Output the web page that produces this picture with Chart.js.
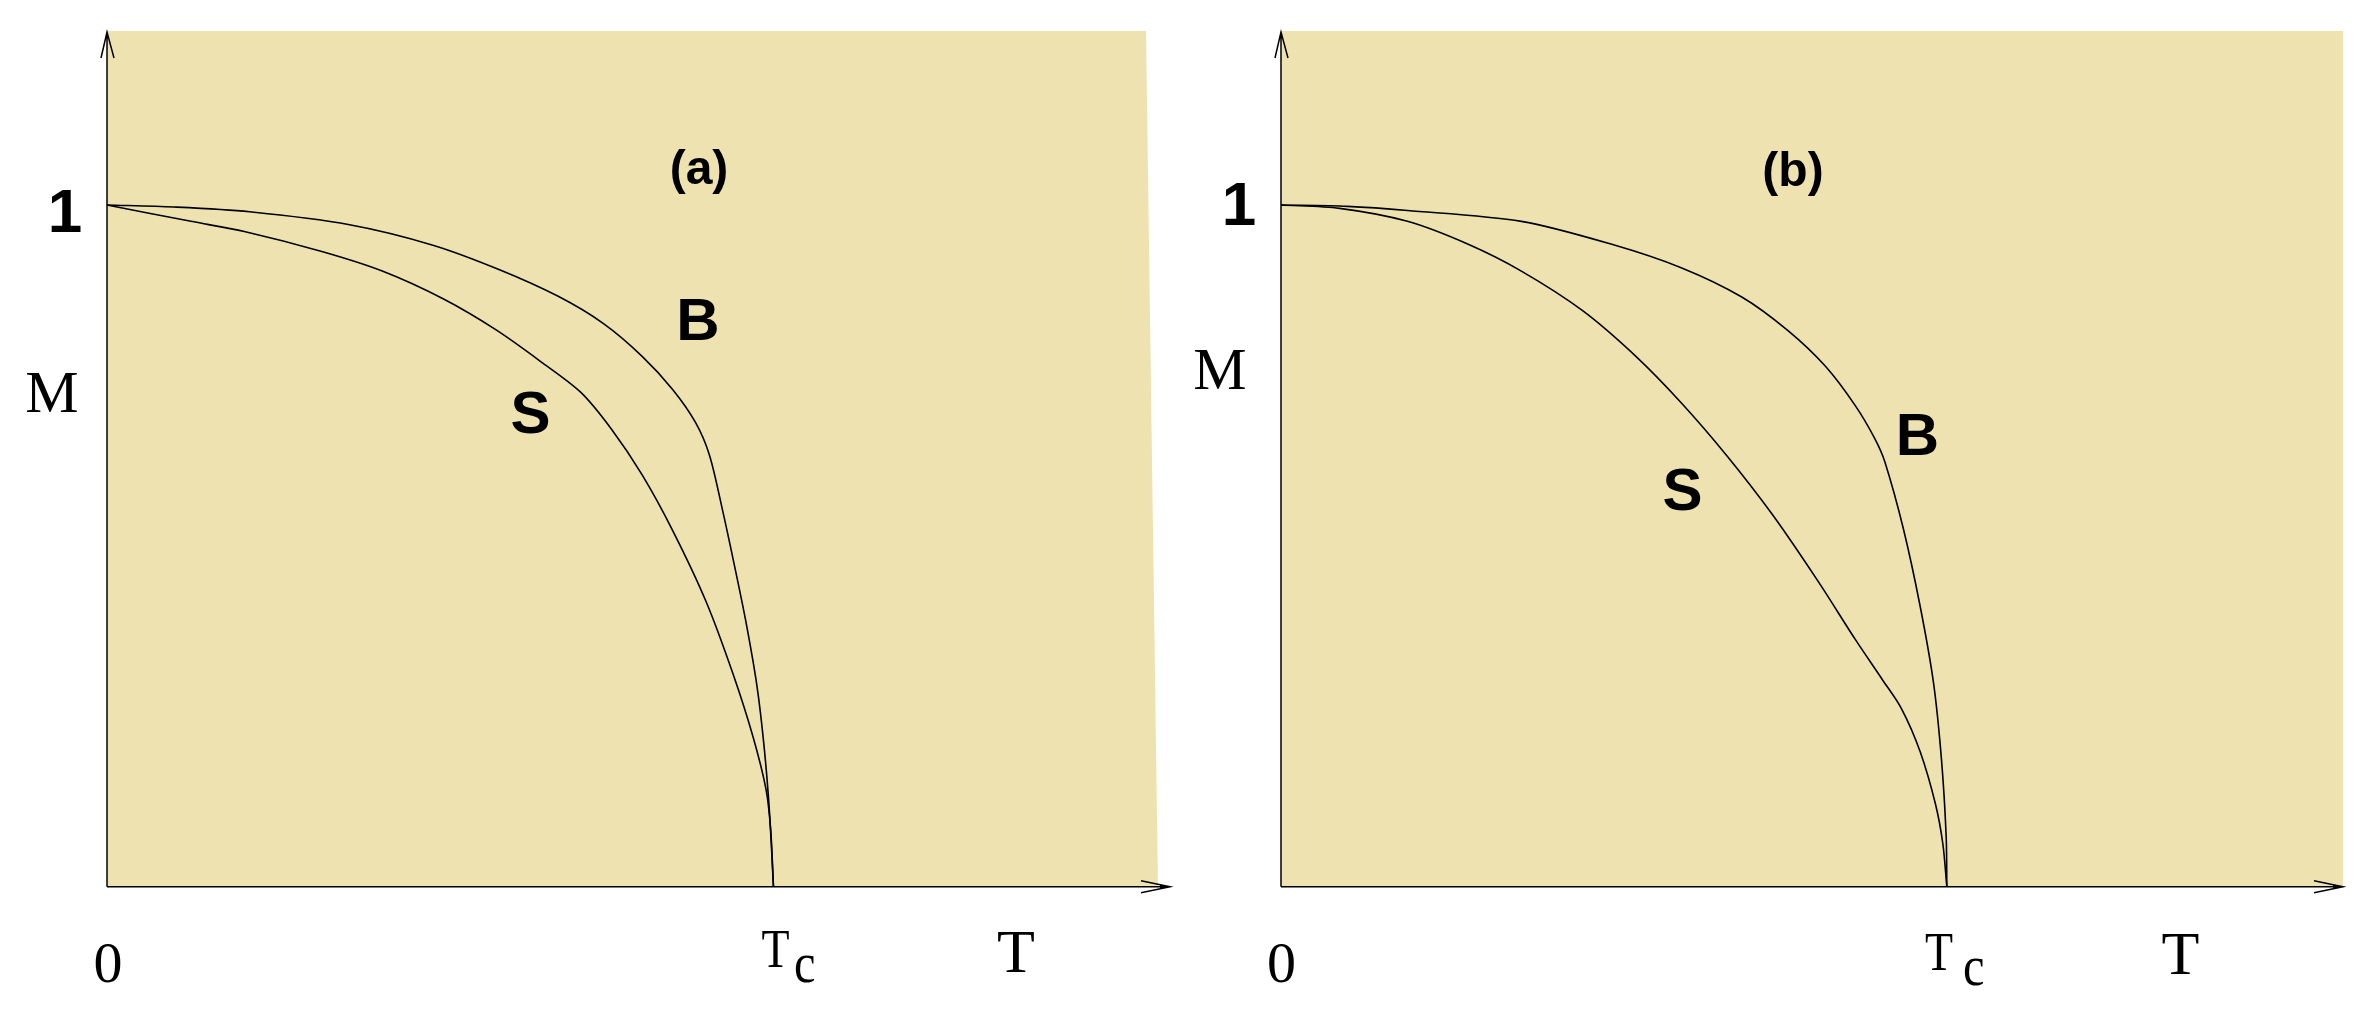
<!DOCTYPE html>
<html><head><meta charset="utf-8">
<script src="https://cdn.jsdelivr.net/npm/chart.js@4/dist/chart.umd.min.js"></script>
<style>
html,body{margin:0;padding:0;background:#fff;overflow:hidden;}
#wrap{position:relative;width:2372px;height:1034px;}
canvas{position:absolute;top:0;}
</style></head><body>
<div id="wrap">
<canvas id="ca" width="1186" height="1034" style="left:0;width:1186px;height:1034px"></canvas>
<canvas id="cb" width="1186" height="1034" style="left:1186px;width:1186px;height:1034px"></canvas>
</div>
<script>
// ---------- data (T in units of Tc, M normalised) ----------
const panelTitles = ['(a)', '(b)'];
const curveNames = ['B', 'S'];
const xTickValues = [0, 1];
const xTickLabels = ['0', 'T'];
const xTickSubs = ['', 'c'];
const yTickValues = [1];
const yTickLabels = ['1'];
const xAxisTitle = 'T';
const yAxisTitle = 'M';

// panel (a)
const aB_T = [0, 0.10, 0.214, 0.364, 0.489, 0.589, 0.677, 0.745, 0.803, 0.849, 0.883, 0.904, 0.923, 0.940, 0.958, 0.975, 0.986, 0.994, 1.0];
const aB_M = [1, 0.997, 0.990, 0.971, 0.941, 0.905, 0.866, 0.826, 0.778, 0.729, 0.681, 0.633, 0.555, 0.478, 0.392, 0.296, 0.205, 0.110, 0];
const aS_T = [0, 0.126, 0.206, 0.321, 0.413, 0.505, 0.585, 0.654, 0.711, 0.757, 0.803, 0.849, 0.899, 0.939, 0.969, 0.989, 0.996, 1.0];
const aS_M = [1, 0.976, 0.961, 0.932, 0.903, 0.862, 0.816, 0.768, 0.725, 0.671, 0.604, 0.522, 0.418, 0.313, 0.221, 0.142, 0.081, 0];

// panel (b)
const bB_T = [0, 0.10, 0.190, 0.361, 0.498, 0.601, 0.692, 0.761, 0.818, 0.863, 0.892, 0.907, 0.935, 0.960, 0.980, 0.992, 0.999, 1.0];
const bB_M = [1, 0.998, 0.992, 0.976, 0.942, 0.908, 0.865, 0.816, 0.763, 0.705, 0.657, 0.623, 0.524, 0.411, 0.299, 0.186, 0.074, 0];
const bS_T = [0, 0.088, 0.190, 0.282, 0.361, 0.453, 0.533, 0.601, 0.669, 0.738, 0.806, 0.863, 0.903, 0.932, 0.960, 0.983, 0.994, 1.0];
const bS_M = [1, 0.995, 0.976, 0.942, 0.903, 0.845, 0.778, 0.710, 0.633, 0.546, 0.449, 0.362, 0.304, 0.261, 0.198, 0.121, 0.063, 0];

const X_MAX = 1.595;
const Y_MAX = 1.2552;

// ---------- styling / layout ----------
const BEIGE = 'rgb(238,227,176)';
const SERIF = '"Liberation Serif", "Times New Roman", serif';
const SANS = '"Liberation Sans", Arial, sans-serif';

const panels = [
  {
    id: 'ca', offset: 0, title: panelTitles[0],
    B: [aB_T, aB_M], S: [aS_T, aS_M],
    pad: {left: 107, right: 16, top: 31, bottom: 147.3},
    bgRight: [1.559, 1.577],
    pos: {
      title: [699, 171], B: [698, 340], S: [530.5, 433],
      one: [65, 232], M: [52, 412], zero: [108, 981.5],
      Tc: [761.5, 966.5, 794, 981.5], T: [1016, 972]
    }
  },
  {
    id: 'cb', offset: 1186, title: panelTitles[1],
    B: [bB_T, bB_M], S: [bS_T, bS_M],
    pad: {left: 95, right: 29, top: 31, bottom: 147.3},
    bgRight: [X_MAX, X_MAX],
    pos: {
      title: [1793, 173], B: [1917.5, 455], S: [1682.5, 510],
      one: [1239, 225], M: [1220, 389], zero: [1281.5, 981.5],
      Tc: [1925, 969.5, 1963, 984.5], T: [2180.5, 974]
    }
  }
];

function toPts(T, M) { return T.map((t, i) => ({x: t, y: M[i]})); }

const bgPlugin = {
  id: 'bg',
  beforeDatasetsDraw(chart, args, opts) {
    const ctx = chart.ctx, xs = chart.scales.x, ys = chart.scales.y;
    const x0 = xs.getPixelForValue(0), yb = ys.getPixelForValue(0), yt = ys.getPixelForValue(Y_MAX);
    ctx.save();
    ctx.fillStyle = BEIGE;
    ctx.beginPath();
    ctx.moveTo(x0, yt);
    ctx.lineTo(xs.getPixelForValue(opts.right[0]), yt);
    ctx.lineTo(xs.getPixelForValue(opts.right[1]), yb);
    ctx.lineTo(x0, yb);
    ctx.closePath();
    ctx.fill();
    ctx.restore();
  }
};

const axesPlugin = {
  id: 'axesDraw',
  afterDatasetsDraw(chart, args, opts) {
    const ctx = chart.ctx, xs = chart.scales.x, ys = chart.scales.y;
    const x0 = xs.getPixelForValue(0), y0 = ys.getPixelForValue(0);
    const xr = xs.getPixelForValue(X_MAX), yt = ys.getPixelForValue(Y_MAX);
    ctx.save();
    ctx.strokeStyle = '#000';
    ctx.lineWidth = 1.5;
    ctx.beginPath();
    ctx.moveTo(x0, y0); ctx.lineTo(x0, yt + 1);
    ctx.moveTo(x0 - 6, yt + 27); ctx.lineTo(x0, yt + 1); ctx.lineTo(x0 + 7, yt + 27);
    ctx.moveTo(x0, y0); ctx.lineTo(xr, y0);
    ctx.moveTo(xr - 29, y0 - 6); ctx.lineTo(xr, y0); ctx.lineTo(xr - 29, y0 + 6);
    ctx.stroke();
    ctx.fillStyle = '#000';
    ctx.beginPath();
    ctx.moveTo(xr, y0); ctx.lineTo(xr - 10, y0 - 2.2); ctx.lineTo(xr - 10, y0 + 2.2); ctx.closePath();
    ctx.fill();
    ctx.restore();
  },
  afterDraw(chart, args, opts) {
    const ctx = chart.ctx, off = opts.offset, p = opts.pos;
    const X = v => v - off;
    ctx.save();
    ctx.fillStyle = '#000';
    ctx.font = 'bold 48px ' + SANS;
    ctx.textAlign = 'center'; ctx.textBaseline = 'middle';
    ctx.fillText(opts.title, X(p.title[0]), p.title[1]);
    ctx.textBaseline = 'alphabetic';
    ctx.font = 'bold 60px ' + SANS;
    ctx.fillText(curveNames[0], X(p.B[0]), p.B[1]);
    ctx.fillText(curveNames[1], X(p.S[0]), p.S[1]);
    ctx.font = 'bold 62px ' + SANS;
    ctx.fillText(yTickLabels[0], X(p.one[0]), p.one[1]);
    ctx.font = '60px ' + SERIF;
    ctx.fillText(yAxisTitle, X(p.M[0]), p.M[1]);
    ctx.font = '58px ' + SERIF;
    ctx.fillText(xTickLabels[0], X(p.zero[0]), p.zero[1]);
    ctx.font = '62px ' + SERIF;
    ctx.fillText(xAxisTitle, X(p.T[0]), p.T[1]);
    ctx.textAlign = 'left';
    ctx.save();
    ctx.translate(X(p.Tc[0]), p.Tc[1]); ctx.scale(0.85, 1);
    ctx.font = '54px ' + SERIF;
    ctx.fillText(xTickLabels[1], 0, 0);
    ctx.restore();
    ctx.save();
    ctx.translate(X(p.Tc[2]), p.Tc[3]); ctx.scale(0.85, 1);
    ctx.font = '57px ' + SERIF;
    ctx.fillText(xTickSubs[1], 0, 0);
    ctx.restore();
    ctx.restore();
  }
};

panels.forEach(pn => {
  const ds = (name, arr) => ({
    label: name, data: toPts(arr[0], arr[1]), showLine: true,
    borderColor: '#000', borderWidth: 1.6, pointRadius: 0,
    tension: 0.3, fill: false, clip: false
  });
  new Chart(document.getElementById(pn.id), {
    type: 'scatter',
    data: {datasets: [ds('B', pn.B), ds('S', pn.S)]},
    options: {
      responsive: false, animation: false, devicePixelRatio: 1, events: [],
      layout: {padding: pn.pad},
      scales: {
        x: {type: 'linear', min: 0, max: X_MAX, display: false},
        y: {type: 'linear', min: 0, max: Y_MAX, display: false}
      },
      plugins: {
        legend: {display: false}, tooltip: {enabled: false},
        bg: {right: pn.bgRight},
        axesDraw: {offset: pn.offset, pos: pn.pos, title: pn.title}
      }
    },
    plugins: [bgPlugin, axesPlugin]
  });
});
</script>
</body></html>
